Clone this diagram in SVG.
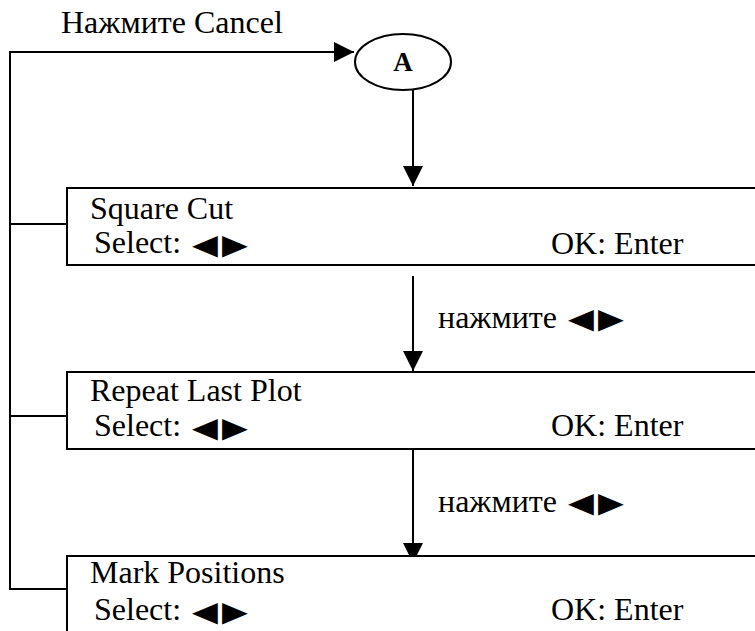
<svg xmlns="http://www.w3.org/2000/svg" width="755" height="631" viewBox="0 0 755 631">
<style>
.t{font-family:"Liberation Serif","Times New Roman",serif;font-size:32px;fill:#000}
.b{font-family:"Liberation Serif","Times New Roman",serif;font-size:27px;font-weight:bold;fill:#000}
.tri{font-family:"DejaVu Sans",sans-serif;font-size:28px;fill:#000}
.box{fill:#fff;stroke:#000;stroke-width:2}
.ln{fill:none;stroke:#000;stroke-width:2}
</style>
<defs>
<marker id="ah" viewBox="0 0 20 20" refX="20" refY="10" markerWidth="20" markerHeight="20" markerUnits="userSpaceOnUse" orient="auto">
<path d="M0,0 L20,10 L0,20 Z" fill="#000"/>
</marker>
</defs>
<rect width="755" height="631" fill="#fff"/>
<g id="connectors">
<polyline class="ln" points="67,224 10,224 10,52 354,52" marker-end="url(#ah)"/>
<line class="ln" x1="10" y1="416" x2="67" y2="416"/>
<polyline class="ln" points="10,224 10,589 67,589"/>
<line class="ln" x1="413" y1="90" x2="413" y2="186" marker-end="url(#ah)"/>
<line class="ln" x1="413" y1="276" x2="413" y2="371" marker-end="url(#ah)"/>
<line class="ln" x1="413" y1="449" x2="413" y2="563" marker-end="url(#ah)"/>
<text class="t" x="438" y="328">нажмите</text>
<text class="tri" transform="translate(568,328) scale(1.2,1)"><tspan x="0">◀</tspan><tspan x="25">▶</tspan></text>
<text class="t" x="438" y="512">нажмите</text>
<text class="tri" transform="translate(568,512) scale(1.2,1)"><tspan x="0">◀</tspan><tspan x="25">▶</tspan></text>
<text class="t" x="61" y="33">Нажмите Cancel</text>
</g>
<g id="nodeA">
<ellipse class="box" cx="403" cy="62" rx="48" ry="28"/>
<text class="b" x="403" y="71" text-anchor="middle">A</text>
</g>
<g id="squareCut">
<rect class="box" x="67" y="188" width="700" height="77"/>
<text class="t" x="90" y="219">Square Cut</text>
<text class="t" x="94" y="253">Select:</text>
<text class="tri" transform="translate(192,254) scale(1.2,1)"><tspan x="0">◀</tspan><tspan x="25">▶</tspan></text>
<text class="t" x="551" y="254">OK: Enter</text>
</g>
<g id="repeatLastPlot">
<rect class="box" x="67" y="372" width="700" height="77"/>
<text class="t" x="90" y="401">Repeat Last Plot</text>
<text class="t" x="94" y="436">Select:</text>
<text class="tri" transform="translate(192,437) scale(1.2,1)"><tspan x="0">◀</tspan><tspan x="25">▶</tspan></text>
<text class="t" x="551" y="436">OK: Enter</text>
</g>
<g id="markPositions">
<rect class="box" x="67" y="556" width="700" height="100"/>
<text class="t" x="90" y="583">Mark Positions</text>
<text class="t" x="94" y="620">Select:</text>
<text class="tri" transform="translate(192,621) scale(1.2,1)"><tspan x="0">◀</tspan><tspan x="25">▶</tspan></text>
<text class="t" x="551" y="620">OK: Enter</text>
</g>
</svg>
